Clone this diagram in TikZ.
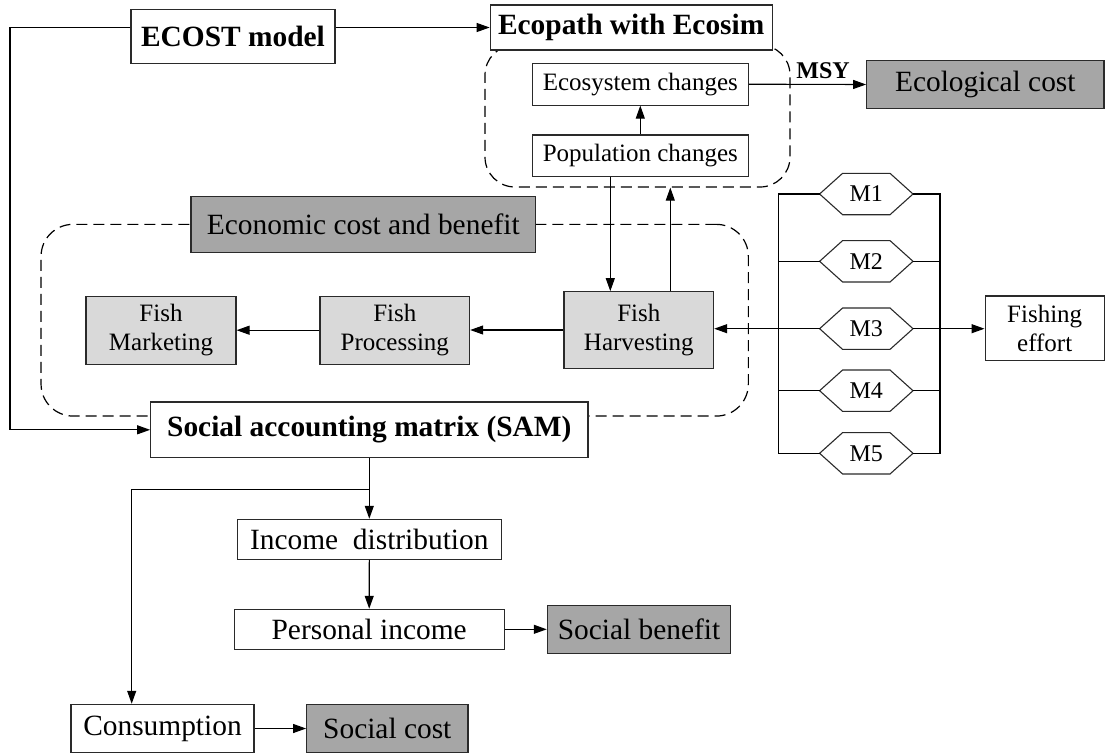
\documentclass[tikz,border=0pt]{standalone}
\usepackage{fontspec}
\setmainfont{Liberation Serif}
\usetikzlibrary{arrows.meta,calc}
\definecolor{darkbox}{HTML}{A6A6A6}
\definecolor{lightbox}{HTML}{D9D9D9}
\definecolor{edgecol}{HTML}{2A2A2A}
\tikzset{
 box/.style={draw=edgecol, line width=1.1pt, inner sep=0pt, align=center, fill=white},
 big/.style={font=\fontsize{29.4}{34}\selectfont},
 bigb/.style={font=\fontsize{29.4}{34}\selectfont\bfseries},
 mid/.style={font=\fontsize{25}{29.5}\selectfont},
 dk/.style={fill=darkbox},
 lt/.style={fill=lightbox},
 arr/.style={draw=black, line width=1.1pt, -{Triangle[length=13pt,width=9pt]}},
 conn/.style={draw=black, line width=1.1pt},
 grp/.style={draw=black, dash pattern=on 11pt off 6pt, line width=1.2pt, inner sep=0pt},
 hexlbl/.style={inner sep=0pt, minimum width=93pt, minimum height=41pt, font=\fontsize{24}{28}\selectfont},
 hexline/.style={draw=edgecol, line width=1.1pt},
}
\newcommand\hexnode[3]{%
  \node[hexlbl] (#1) at (866.3,#2) {#3};
  \draw[hexline] (#1.west) -- ([xshift=23pt]#1.north west) -- ([xshift=-23pt]#1.north east)
     -- (#1.east) -- ([xshift=-23pt]#1.south east) -- ([xshift=23pt]#1.south west) -- cycle;
}
\begin{document}
\begin{tikzpicture}[x=1pt,y=-1pt]
\useasboundingbox (0,0) rectangle (1105,753);

% dashed groups
\node[grp, rounded corners=30pt, minimum width=305pt, minimum height=142pt] (grp1) at (637.5,116) {};
\node[grp, rounded corners=32pt, minimum width=707.3pt, minimum height=191.7pt] (grp2) at (394.7,320.2) {};

% top
\node[box, bigb, minimum width=204pt, minimum height=54pt] (ecost) at (233,36.3) {ECOST model};
\node[box, bigb, minimum width=282pt, minimum height=45pt] (ecopath) at (631.2,27.5) {Ecopath with Ecosim};
\node[box, mid, minimum width=216pt, minimum height=41.7pt] (eco) at (640.3,84.2) {Ecosystem changes};
\node[box, mid, minimum width=216pt, minimum height=41.7pt] (pop) at (640.3,155.8) {Population changes};
\node[font=\fontsize{24}{28}\selectfont\bfseries, inner sep=0pt, anchor=base] (msy) at (823,78) {MSY};
\node[box, big, dk, minimum width=237.3pt, minimum height=47.6pt] (ecol) at (985.3,84.5) {Ecological cost};

% economic
\node[box, big, dk, minimum width=344.7pt, minimum height=56pt] (econ) at (363.3,224.7) {Economic cost and benefit};
\node[box, mid, lt, minimum width=150pt, minimum height=68.3pt] (fm) at (161,330.2) {Fish\\Marketing};
\node[box, mid, lt, minimum width=149.7pt, minimum height=68.3pt] (fp) at (394.8,330.2) {Fish\\Processing};
\node[box, mid, lt, minimum width=149.7pt, minimum height=76.6pt] (fh) at (638.8,330) {Fish\\Harvesting};
\node[box, mid, minimum width=119.3pt, minimum height=64.7pt] (fe) at (1044.7,328.3) {Fishing\\effort};

% SAM and below
\node[box, bigb, minimum width=437.3pt, minimum height=55.7pt] (sam) at (369.3,429.8) {Social accounting matrix (SAM)};
\node[box, big, minimum width=264pt, minimum height=40pt] (inc) at (369.3,539.3) {Income\ \ distribution};
\node[box, big, minimum width=269.7pt, minimum height=40pt] (per) at (369.2,629.3) {Personal income};
\node[box, big, dk, minimum width=183.4pt, minimum height=48pt] (sben) at (639,629.3) {Social benefit};
\node[box, big, minimum width=183pt, minimum height=48.4pt] (cons) at (162.5,728.5) {Consumption};
\node[box, big, dk, minimum width=161.3pt, minimum height=48.4pt] (scost) at (387.3,728.5) {Social cost};

% hexagons
\hexnode{m1}{194}{M1}
\hexnode{m2}{261.3}{M2}
\hexnode{m3}{328.7}{M3}
\hexnode{m4}{390.7}{M4}
\hexnode{m5}{453.3}{M5}
\coordinate (lbus) at (778.3,0);
\coordinate (rbus) at (940,0);
\draw[conn] (m1.west) -- (m1.west -| lbus) -- (m5.west -| lbus) -- (m5.west);
\draw[conn] (m1.east) -- (m1.east -| rbus) -- (m5.east -| rbus) -- (m5.east);
\draw[conn] (m2.west) -- (m2.west -| lbus);
\draw[conn] (m2.east) -- (m2.east -| rbus);
\draw[conn] (m4.west) -- (m4.west -| lbus);
\draw[conn] (m4.east) -- (m4.east -| rbus);
\draw[arr] (m3.west) -- (m3.west -| fh.east);
\draw[arr] (m3.east) -- (m3.east -| fe.west);

% connectors
\draw[arr] (ecost.east |- ecopath.west) -- (ecopath.west);
\draw[arr] (ecost.west |- ecopath.west) -- (10,27.5) |- (sam.west);
\draw[arr] (pop.north) -- (eco.south);
\draw[arr] (eco.east) -- (ecol.west);
\draw[arr] ([xshift=-30pt]pop.south) -- ([xshift=-30pt]pop.south |- fh.north);
\draw[arr] ([xshift=30pt]pop.south |- fh.north) -- ([xshift=30pt]pop.south |- grp1.south);
\draw[arr] (fh.west) -- (fh.west -| fp.east);
\draw[arr] (fp.west) -- (fp.west -| fm.east);
\draw[arr] (sam.south) -- (inc.north);
\draw[arr] ([yshift=-31.6pt]sam.south) -| ([xshift=-30.8pt]cons.north);
\draw[arr] (inc.south) -- (per.north);
\draw[arr] (per.east) -- (per.east -| sben.west);
\draw[arr] (cons.east) -- (cons.east -| scost.west);
\end{tikzpicture}
\end{document}
